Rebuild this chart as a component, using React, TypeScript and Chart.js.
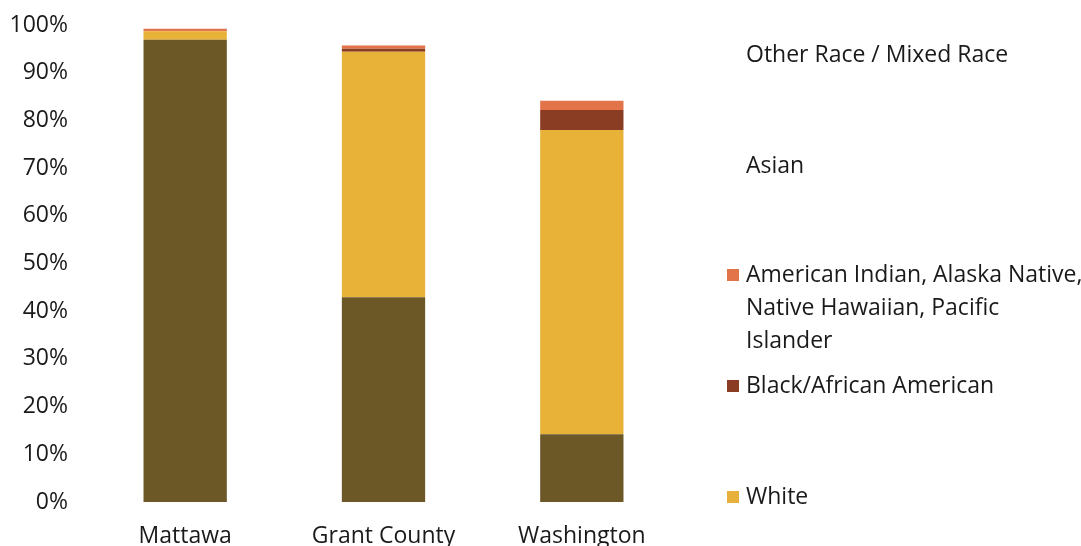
import React, { useEffect, useRef } from "react";
import { Chart, registerables } from "chart.js";
Chart.register(...registerables);

const categories = ["Mattawa", "Grant County", "Washington"];
const hispanic = [96.9, 42.9, 14.2];
const white = [1.8, 51.5, 63.8];
const black = [0.0, 0.6, 4.2];
const amIndian = [0.5, 0.7, 1.9];
const asian = [0, 0, 0];
const otherMixed = [0, 0, 0];
const yTickValues = [0, 10, 20, 30, 40, 50, 60, 70, 80, 90, 100];

const FONT = "'Open Sans', 'Noto Sans', sans-serif";
const TEXT = "#1a1a1a";

type LegendEntry = { lines: string[]; color: string | null; y: number };
const legendEntries: LegendEntry[] = [
  { lines: ["Other Race / Mixed Race"], color: null, y: 55 },
  { lines: ["Asian"], color: null, y: 166 },
  {
    lines: ["American Indian, Alaska Native,", "Native Hawaiian, Pacific", "Islander"],
    color: "#e3744a",
    y: 275,
  },
  { lines: ["Black/African American"], color: "#8a3d22", y: 386 },
  { lines: ["White"], color: "#e6b03a", y: 497 },
];

const legendPlugin = {
  id: "customLegend",
  afterDraw(chart: any) {
    const ctx = chart.ctx;
    ctx.save();
    ctx.font = `23px ${FONT}`;
    ctx.textBaseline = "middle";
    ctx.textAlign = "left";
    for (const e of legendEntries) {
      if (e.color) {
        ctx.fillStyle = e.color;
        ctx.fillRect(727, e.y - 6, 12, 12);
      }
      ctx.fillStyle = TEXT;
      e.lines.forEach((l, i) => ctx.fillText(l, 746, e.y + i * 33));
    }
    ctx.restore();
  },
};

export default function App() {
  const ref = useRef<HTMLCanvasElement>(null);
  useEffect(() => {
    document.body.style.margin = "0";
    const chart = new Chart(ref.current!, {
      type: "bar",
      data: {
        labels: categories,
        datasets: [
          { label: "Hispanic/Latino", data: hispanic, backgroundColor: "#6c5726" },
          { label: "White", data: white, backgroundColor: "#e7b237" },
          { label: "Black/African American", data: black, backgroundColor: "#8a3d22" },
          { label: "American Indian, Alaska Native, Native Hawaiian, Pacific Islander", data: amIndian, backgroundColor: "#e3744a" },
          { label: "Asian", data: asian, backgroundColor: "#ffffff" },
          { label: "Other Race / Mixed Race", data: otherMixed, backgroundColor: "#ffffff" },
        ],
      },
      options: {
        responsive: false,
        animation: false,
        layout: { padding: { top: 25, right: 400, left: 0, bottom: 0 } },
        plugins: { legend: { display: false }, tooltip: { enabled: false } },
        datasets: { bar: { barPercentage: 0.84, categoryPercentage: 0.5 } },
        scales: {
          x: {
            stacked: true,
            grid: { display: false, drawTicks: false },
            border: { display: false },
            ticks: { color: TEXT, font: { family: FONT, size: 23 }, padding: 21, maxRotation: 0 },
            afterFit: (s: any) => { s.height = 44; s.paddingLeft = 0; s.paddingRight = 0; },
          },
          y: {
            stacked: true,
            min: 0,
            max: 100,
            grid: { display: false, drawTicks: false },
            border: { display: false },
            afterBuildTicks: (s: any) => { s.ticks = yTickValues.map((v) => ({ value: v })); },
            ticks: {
              color: TEXT,
              font: { family: FONT, size: 23 },
              padding: 18,
              callback: (v: any) => `${v}%`,
            },
            afterFit: (s: any) => { s.width = 86; s.paddingTop = 0; s.paddingBottom = 0; },
          },
        },
      },
      plugins: [legendPlugin],
    });
    return () => chart.destroy();
  }, []);
  return (
    <div style={{ width: 1081, height: 546, background: "#fff" }}>
      <canvas ref={ref} width={1081} height={546} />
    </div>
  );
}
